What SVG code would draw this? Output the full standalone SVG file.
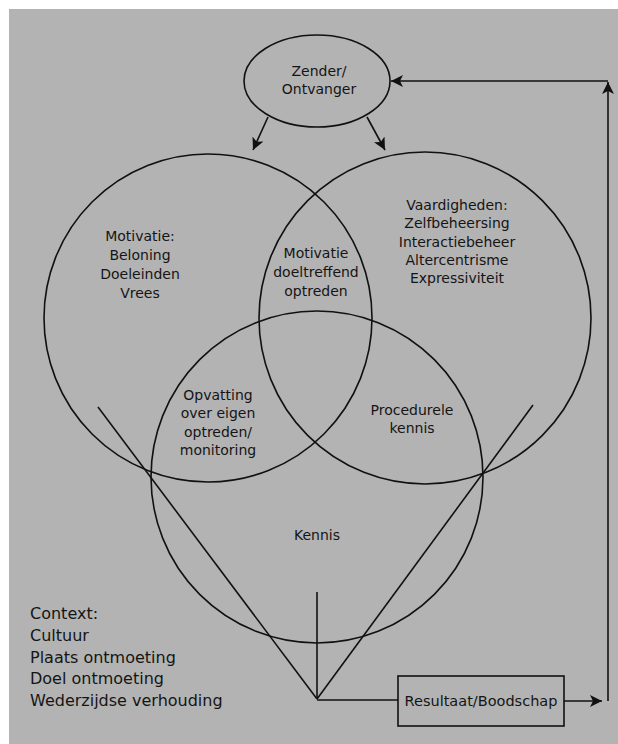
<svg xmlns="http://www.w3.org/2000/svg" width="618" height="744" viewBox="0 0 618 744">
<style>
.ln{fill:none;stroke:#111;stroke-width:1.6}
.t{font-family:"DejaVu Sans",Verdana,sans-serif;font-size:14px;fill:#151515;text-anchor:middle}
.tl{font-family:"DejaVu Sans",Verdana,sans-serif;font-size:16px;fill:#151515}
</style>
<defs>
<marker id="ah" viewBox="0 0 10 10" refX="10" refY="5" markerWidth="10" markerHeight="10" markerUnits="userSpaceOnUse" orient="auto">
<path d="M0,0 L10,5 L0,10 L2.5,5 z" fill="#111"/>
</marker>
<marker id="ahb" viewBox="0 0 10 10" refX="10" refY="5" markerWidth="15" markerHeight="12" markerUnits="userSpaceOnUse" orient="auto">
<path d="M0,0 L10,5 L0,10 L2.5,5 z" fill="#111"/>
</marker>
</defs>
<rect x="0" y="0" width="618" height="744" fill="#ffffff"/>
<rect x="9" y="9" width="609" height="735" fill="#b3b3b3"/>

<g id="zender">
<ellipse class="ln" cx="317" cy="81" rx="73" ry="46"/>
<text class="t" x="319" y="76">Zender/</text>
<text class="t" x="319" y="94">Ontvanger</text>
</g>

<g id="motivatie">
<circle class="ln" cx="208" cy="318" r="164"/>
<text class="t" x="140" y="241">Motivatie:</text>
<text class="t" x="140" y="260">Beloning</text>
<text class="t" x="140" y="279">Doeleinden</text>
<text class="t" x="140" y="298">Vrees</text>
</g>

<g id="vaardigheden">
<circle class="ln" cx="425" cy="318" r="166"/>
<text class="t" x="457" y="210">Vaardigheden:</text>
<text class="t" x="457" y="228">Zelfbeheersing</text>
<text class="t" x="457" y="247">Interactiebeheer</text>
<text class="t" x="457" y="265">Altercentrisme</text>
<text class="t" x="457" y="283">Expressiviteit</text>
</g>

<g id="kennis">
<circle class="ln" cx="317" cy="477" r="166"/>
<text class="t" x="317" y="540">Kennis</text>
</g>

<g id="motivatie-doeltreffend">
<text class="t" x="316" y="258">Motivatie</text>
<text class="t" x="316" y="277">doeltreffend</text>
<text class="t" x="316" y="296">optreden</text>
</g>

<g id="opvatting">
<text class="t" x="218" y="400">Opvatting</text>
<text class="t" x="218" y="418">over eigen</text>
<text class="t" x="218" y="437">optreden/</text>
<text class="t" x="218" y="455">monitoring</text>
</g>

<g id="procedurele">
<text class="t" x="412" y="415">Procedurele</text>
<text class="t" x="412" y="433">kennis</text>
</g>

<g id="context">
<text class="tl" x="30" y="619">Context:</text>
<text class="tl" x="30" y="641">Cultuur</text>
<text class="tl" x="30" y="663">Plaats ontmoeting</text>
<text class="tl" x="30" y="684">Doel ontmoeting</text>
<text class="tl" x="30" y="706">Wederzijdse verhouding</text>
</g>

<g id="resultaat">
<rect class="ln" x="398" y="676" width="166" height="50"/>
<text class="t" x="481" y="706" style="font-size:14.5px">Resultaat/Boodschap</text>
</g>

<g id="connectors">
<line class="ln" x1="268" y1="117" x2="253" y2="150" marker-end="url(#ahb)"/>
<line class="ln" x1="367" y1="117" x2="385" y2="150" marker-end="url(#ahb)"/>
<line class="ln" x1="98" y1="407" x2="317" y2="699"/>
<line class="ln" x1="533" y1="405" x2="317" y2="699"/>
<line class="ln" x1="317" y1="592" x2="317" y2="699"/>
<line class="ln" x1="317" y1="700" x2="398" y2="700"/>
<line class="ln" x1="564" y1="701" x2="602" y2="701" stroke-width="2" marker-end="url(#ahb)"/>
<line class="ln" x1="608" y1="701" x2="608" y2="82" marker-end="url(#ahb)"/>
<line class="ln" x1="608" y1="81" x2="391" y2="81" marker-end="url(#ahb)"/>
</g>
</svg>
